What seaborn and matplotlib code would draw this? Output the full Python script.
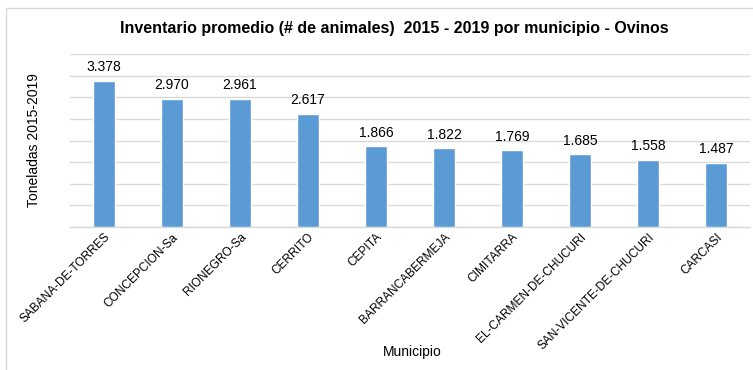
import matplotlib
matplotlib.use("Agg")
import matplotlib.pyplot as plt
import seaborn as sns
import pandas as pd
from matplotlib.patches import Rectangle

municipios = ["SABANA-DE-TORRES", "CONCEPCION-Sa", "RIONEGRO-Sa", "CERRITO", "CEPITA",
              "BARRANCABERMEJA", "CIMITARRA", "EL-CARMEN-DE-CHUCURI",
              "SAN-VICENTE-DE-CHUCURI", "CARCASI"]
inventario = [3.378, 2.970, 2.961, 2.617, 1.866, 1.822, 1.769, 1.685, 1.558, 1.487]

df = pd.DataFrame({"Municipio": municipios, "Inventario": inventario})

sns.set_theme(style="white")
plt.rcParams["font.family"] = ["Liberation Sans", "DejaVu Sans"]

fig = plt.figure(figsize=(7.53, 3.70), dpi=100)
ax = fig.add_axes([70 / 753, 1 - 227 / 370, 680 / 753, 173 / 370])

sns.barplot(data=df, x="Municipio", y="Inventario", color="#5B9BD5",
            width=0.31, saturation=1, ax=ax, zorder=3)

ax.set_ylim(0, 4.0)
ax.set_xlim(-0.5, len(municipios) - 0.5)
ax.set_yticks([i * 0.5 for i in range(9)])
ax.set_yticklabels([])
ax.tick_params(axis="y", length=0)
ax.tick_params(axis="x", length=0, pad=3)
ax.yaxis.grid(True, color="#D9D9D9", linewidth=1.0, zorder=0)
for side in ["top", "right", "left"]:
    ax.spines[side].set_visible(False)
ax.spines["bottom"].set_color("#D9D9D9")
ax.spines["bottom"].set_linewidth(1.0)

ax.set_xticks(range(len(municipios)))
ax.set_xticklabels(municipios, rotation=45, ha="right", rotation_mode="anchor",
                   fontsize=8.6, color="#000000")

for i, v in enumerate(inventario):
    ax.text(i, v + 0.15, f"{v:.3f}", ha="center", va="bottom",
            fontsize=10, color="#000000")

ax.set_xlabel("Municipio", fontsize=10, color="#000000")
ax.xaxis.set_label_coords(0.503, -0.68)
ax.set_ylabel("Toneladas 2015-2019", fontsize=10, color="#000000")
ax.yaxis.set_label_coords(-0.043, 0.5)

fig.text(0.524, 1 - 29 / 370, "Inventario promedio (# de animales)  2015 - 2019 por municipio - Ovinos",
         ha="center", va="center", fontsize=11.5, fontweight="bold", color="#000000")

fig.patches.append(Rectangle((6 / 753, -0.1), 1.2, 1 - 8 / 370 + 0.1,
                             transform=fig.transFigure, fill=False,
                             edgecolor="#D9D9D9", linewidth=1.0))

fig.savefig("out.png", dpi=100, facecolor="white")
